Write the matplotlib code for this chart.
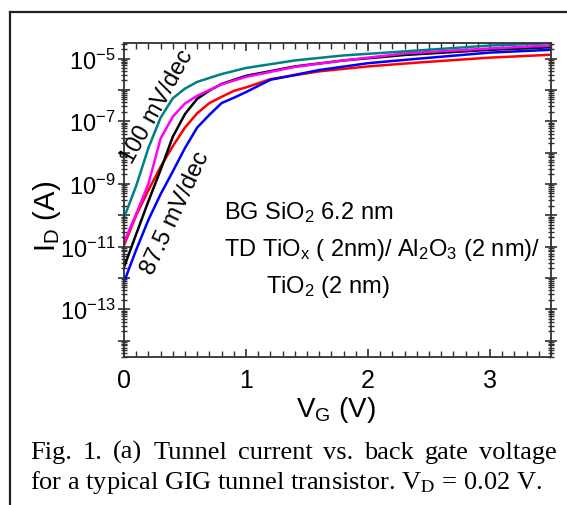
import numpy as np
import matplotlib
matplotlib.use("Agg")
import matplotlib.pyplot as plt
from matplotlib.ticker import LogLocator, FixedLocator, MultipleLocator, FuncFormatter, NullFormatter
from matplotlib.lines import Line2D

plt.rcParams['font.family'] = ['Liberation Sans', 'DejaVu Sans']
plt.rcParams['mathtext.fontset'] = 'custom'
plt.rcParams['mathtext.rm'] = 'Liberation Sans'
plt.rcParams['mathtext.it'] = 'Liberation Sans:italic'
plt.rcParams['mathtext.bf'] = 'Liberation Sans:bold'

# ---------------- data ----------------
vg_teal = [0.0, 0.1, 0.2, 0.3, 0.4, 0.5, 0.6, 0.8, 1.0, 1.4, 1.8, 2.1, 2.4, 3.0, 3.5]
id_teal = [8.3e-11, 8.7e-10, 1.4e-8, 1.3e-7, 5.4e-7, 1.1e-6, 1.8e-6, 3.2e-6, 5.0e-6,
           8.7e-6, 1.26e-5, 1.5e-5, 1.8e-5, 2.6e-5, 3.1e-5]

vg_magenta = [0.0, 0.1, 0.2, 0.3, 0.4, 0.5, 0.6, 0.8, 1.0, 1.4, 1.8, 2.3, 3.0, 3.5]
id_magenta = [1.4e-11, 1.1e-10, 1.0e-9, 2.8e-8, 1.4e-7, 3.7e-7, 6.5e-7, 1.5e-6, 2.6e-6,
              5.4e-6, 8.7e-6, 1.45e-5, 2.1e-5, 2.6e-5]

vg_black = [0.0, 0.1, 0.2, 0.3, 0.4, 0.5, 0.6, 0.7, 0.8, 1.0, 1.4, 1.8, 2.3, 3.0, 3.5]
id_black = [2.2e-12, 2.5e-11, 2.8e-10, 2.8e-9, 3.2e-8, 1.7e-7, 5.2e-7, 9.5e-7, 1.55e-6,
            2.8e-6, 5.6e-6, 8.7e-6, 1.3e-5, 1.9e-5, 2.3e-5]

vg_red = [0.0, 0.1, 0.2, 0.3, 0.4, 0.5, 0.6, 0.7, 0.8, 0.9, 1.0, 1.2, 1.6, 2.0, 2.4, 3.0, 3.5]
id_red = [1.1e-11, 1.0e-10, 6.3e-10, 3.5e-9, 1.6e-8, 6.3e-8, 1.8e-7, 3.8e-7, 6.0e-7,
          9.3e-7, 1.2e-6, 2.2e-6, 3.9e-6, 5.6e-6, 7.4e-6, 1.07e-5, 1.32e-5]

vg_blue = [0.0, 0.1, 0.2, 0.3, 0.4, 0.5, 0.6, 0.7, 0.8, 0.9, 1.0, 1.2, 1.6, 2.0, 2.4, 3.0, 3.5]
id_blue = [7.4e-13, 7.9e-12, 7.1e-11, 4.7e-10, 2.5e-9, 1.4e-8, 6.3e-8, 1.6e-7, 3.8e-7,
           5.6e-7, 8.5e-7, 2.1e-6, 4.3e-6, 7.1e-6, 9.8e-6, 1.55e-5, 1.9e-5]

series = [
    (vg_red, id_red, '#ff0000'),
    (vg_blue, id_blue, '#0000ff'),
    (vg_black, id_black, '#000000'),
    (vg_magenta, id_magenta, '#ff00ff'),
    (vg_teal, id_teal, '#008080'),
]

x_ticks = [0, 1, 2, 3]
x_ticklabels = ['0', '1', '2', '3']

# ---------------- figure ----------------
W, H = 567, 506
fig = plt.figure(figsize=(W / 100, H / 100), dpi=100)

def fx(px):
    return px / W

def fy(py):
    return 1 - py / H

ax_l, ax_r, ax_t, ax_b = 124, 551, 43.5, 358
ax = fig.add_axes([fx(ax_l), fy(ax_b), (ax_r - ax_l) / W, (ax_b - ax_t) / H])

for v, i, c in series:
    ax.plot(v, i, color=c, lw=1.8, solid_joinstyle='miter')

ax.set_yscale('log')
ax.set_xlim(0, 3.5)
ax.set_ylim(3.0e-15, 3.25e-5)

ax.xaxis.set_major_locator(FixedLocator(x_ticks))
ax.set_xticklabels(x_ticklabels)
ax.xaxis.set_minor_locator(MultipleLocator(0.1))

ax.yaxis.set_major_locator(LogLocator(base=10, subs=(1.0,), numticks=30))
ax.yaxis.set_minor_locator(LogLocator(base=10, subs=np.arange(2, 10), numticks=30))

def yfmt(val, pos):
    e = int(round(np.log10(val)))
    if e % 2 != 0:
        return r'$\mathdefault{10^{%d}}$' % e
    return ''

ax.yaxis.set_major_formatter(FuncFormatter(yfmt))
ax.yaxis.set_minor_formatter(NullFormatter())

for s in ax.spines.values():
    s.set_linewidth(1.3)
    s.set_color('#303030')

ax.tick_params(axis='x', which='both', direction='in', top=True, bottom=True,
               labelsize=18, pad=8, color='#303030')
ax.tick_params(axis='x', which='major', length=6, width=1.2)
ax.tick_params(axis='x', which='minor', length=4, width=1.0)
ax.tick_params(axis='y', which='both', direction='inout', left=True, right=True,
               labelsize=17, pad=2, color='#303030')
ax.tick_params(axis='y', which='major', length=8, width=1.2)
ax.tick_params(axis='y', which='minor', length=5, width=1.0)

# axis labels
fig.text(fx(47), fy(216), r'I$_\mathrm{D}$ (A)', rotation=90, ha='center', va='center', fontsize=21)
fig.text(fx(336), fy(410), r'V$_\mathrm{G}$ (V)', ha='center', va='center', fontsize=20)

# annotations
ax.text(0.27, 10 ** -6.5, '100 mV/dec', rotation=61, ha='center', va='center', fontsize=17)
ax.text(0.42, 10 ** -9.9, '87.5 mV/dec', rotation=65, ha='center', va='center', fontsize=17)

fig.text(fx(224), fy(213), r'BG SiO$_2$ 6.2 nm', ha='left', va='center', fontsize=17)
fig.text(fx(224), fy(250), r'TD TiO$_\mathrm{x}$ ( 2nm)/ Al$_2$O$_3$ (2 nm)/', ha='left', va='center', fontsize=17)
fig.text(fx(266), fy(287), r'TiO$_2$ (2 nm)', ha='left', va='center', fontsize=17)

# frame lines (left and top)
fig.add_artist(Line2D([fx(10), fx(10)], [fy(12.7), 0], color='#202020', lw=1.6))
fig.add_artist(Line2D([fx(10), 1], [fy(12.7), fy(12.7)], color='#202020', lw=1.6))

# caption (first line justified)
cap_fs = 19
renderer = fig.canvas.get_renderer()
line1 = 'Fig. 1. (a) Tunnel current vs. back gate voltage'.split(' ')
left_px, right_px = 30, 557
words = [fig.text(0, 0, w, fontsize=cap_fs, family='Liberation Serif', ha='left', va='baseline')
         for w in line1]
widths = [w.get_window_extent(renderer).width for w in words]
gap = (right_px - left_px - sum(widths)) / (len(words) - 1)
xpos = left_px
for t, wd in zip(words, widths):
    t.set_position((fx(xpos), fy(459)))
    xpos += wd + gap

fig.text(fx(left_px), fy(489), r'for a typical GIG tunnel transistor. V$_\mathrm{D}$ = 0.02 V.',
         fontsize=cap_fs, family='Liberation Serif', math_fontfamily='stix', ha='left', va='baseline')

fig.savefig('out.png', dpi=100)
